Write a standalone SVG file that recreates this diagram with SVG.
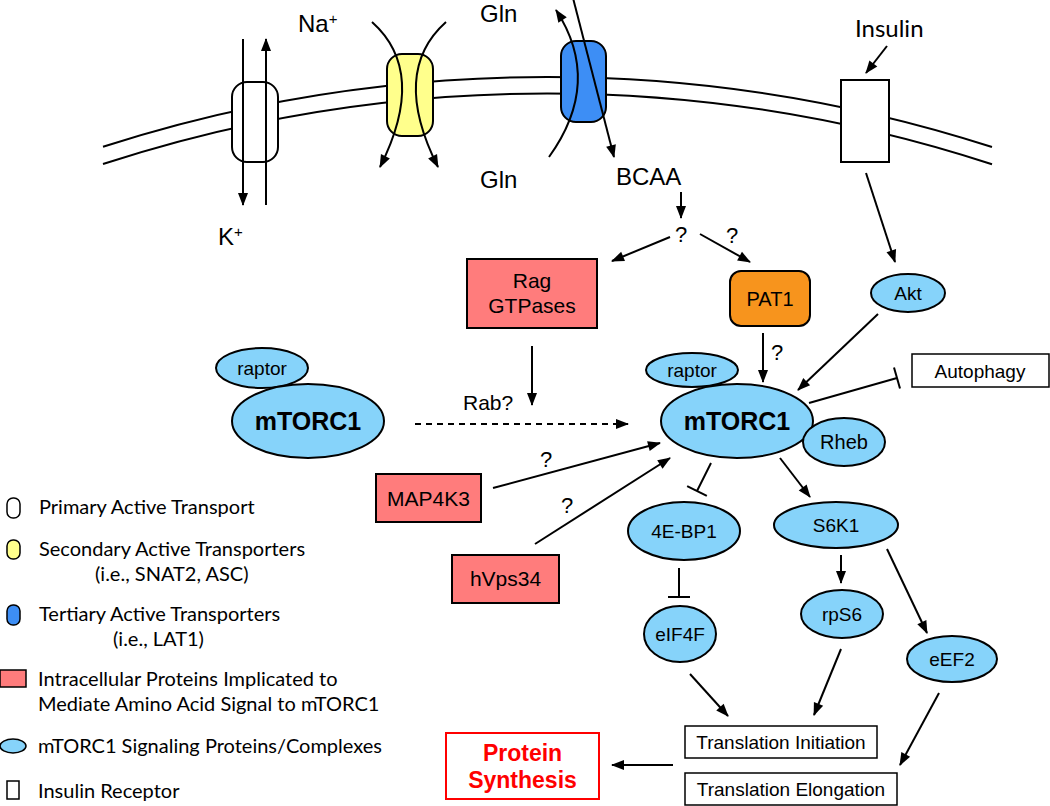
<svg xmlns="http://www.w3.org/2000/svg" width="1050" height="806" viewBox="0 0 1050 806">
<style>
.ln{fill:none;stroke:#000;stroke-width:2}
.ar{marker-end:url(#ah)}
.inh{marker-end:url(#bar)}
.t{font-family:"Liberation Sans",Arial,sans-serif;fill:#000}
.big{font-size:24px}
.n{font-size:20px}
.s{font-size:19px}
.lg{font-family:Lato,"Open Sans",sans-serif;font-size:20px;fill:#000}
.blue{fill:#86D3FA;stroke:#000;stroke-width:2}
.red{fill:#FF7C7C;stroke:#000;stroke-width:2}
.box{fill:#fff;stroke:#000;stroke-width:1.5}
</style>
<defs>
<marker id="ah" markerUnits="userSpaceOnUse" markerWidth="13" markerHeight="11" refX="12" refY="5" orient="auto" overflow="visible">
<path d="M0,0 L13,5 L0,10 z" fill="#000"/>
</marker>
<marker id="bar" markerUnits="userSpaceOnUse" markerWidth="4" markerHeight="24" refX="1" refY="11" orient="auto" overflow="visible">
<path d="M1,0 L1,22" stroke="#000" stroke-width="2" fill="none"/>
</marker>
</defs>
<rect width="1050" height="806" fill="#fff"/>

<g id="membrane">
<path class="ln" d="M103,146.7 A1449,1449 0 0 1 992,147"/>
<path class="ln" d="M103,164 A1432,1432 0 0 1 992,164.3"/>
</g>

<g id="primary-transporter">
<rect x="232" y="82" width="46" height="80" rx="15" fill="#fff" stroke="#000" stroke-width="2"/>
</g>
<g id="secondary-transporter">
<rect x="387" y="54" width="46" height="82" rx="15" fill="#FFFF8C" stroke="#000" stroke-width="2"/>
</g>
<g id="tertiary-transporter">
<rect x="561" y="41" width="45" height="81" rx="15" fill="#3D8EF5" stroke="#000" stroke-width="2"/>
</g>
<g id="insulin-receptor">
<rect x="841" y="80" width="48" height="82" fill="#fff" stroke="#000" stroke-width="2"/>
</g>

<g id="labels-top">
<text class="t big" x="298" y="32">Na<tspan font-size="15" dy="-8">+</tspan></text>
<text class="t big" x="480" y="22">Gln</text>
<text class="t big" x="480" y="188">Gln</text>
<text class="t big" x="616" y="185">BCAA</text>
<text class="t big" x="218" y="245">K<tspan font-size="15" dy="-8">+</tspan></text>
<text class="lg" x="855" y="37" font-size="24" style="font-size:24px">Insulin</text>
<text class="t" x="681" y="242" font-size="22" text-anchor="middle">?</text>
<text class="t" x="732" y="243" font-size="22" text-anchor="middle">?</text>
<text class="t" x="777" y="360" font-size="22" text-anchor="middle">?</text>
<text class="t" x="546" y="467" font-size="22" text-anchor="middle">?</text>
<text class="t" x="567" y="513" font-size="22" text-anchor="middle">?</text>
<text class="t" x="463" y="410" font-size="21">Rab?</text>
</g>

<g id="connectors">
<line class="ln ar" x1="243" y1="39" x2="243" y2="205"/>
<line class="ln ar" x1="266" y1="205" x2="266" y2="39"/>
<path class="ln ar" d="M372,22 Q428,72 380,167"/>
<path class="ln ar" d="M446,22 Q390,72 438,167"/>
<path class="ln ar" d="M549,157 Q603,82 556,10"/>
<line class="ln ar" x1="573" y1="-2" x2="614" y2="157"/>
<line class="ln ar" x1="887" y1="46" x2="866" y2="73"/>
<line class="ln ar" x1="866" y1="173" x2="895" y2="262"/>
<line class="ln ar" x1="681" y1="192" x2="681" y2="218"/>
<line class="ln ar" x1="670" y1="237" x2="612" y2="261"/>
<line class="ln ar" x1="700" y1="234" x2="750" y2="262"/>
<line class="ln ar" x1="532" y1="346" x2="532" y2="405"/>
<line class="ln ar" x1="415" y1="424" x2="628" y2="424" stroke-dasharray="6,5"/>
<line class="ln ar" x1="763" y1="333" x2="763" y2="382"/>
<line class="ln ar" x1="878" y1="314" x2="798" y2="390"/>
<line class="ln inh" x1="809" y1="403" x2="897" y2="378"/>
<line class="ln ar" x1="493" y1="488" x2="660" y2="443"/>
<line class="ln ar" x1="535" y1="544" x2="670" y2="458"/>
<line class="ln inh" x1="711" y1="463" x2="697" y2="491"/>
<line class="ln ar" x1="780" y1="458" x2="810" y2="497"/>
<line class="ln inh" x1="679" y1="568" x2="679" y2="597"/>
<line class="ln ar" x1="841" y1="555" x2="841" y2="583"/>
<line class="ln ar" x1="887" y1="549" x2="927" y2="633"/>
<line class="ln ar" x1="690" y1="674" x2="728" y2="716"/>
<line class="ln ar" x1="841" y1="649" x2="814" y2="715"/>
<line class="ln ar" x1="939" y1="693" x2="900" y2="765"/>
<line class="ln ar" x1="673" y1="765" x2="612" y2="765"/>
</g>

<g id="rag">
<rect class="red" x="467" y="259" width="130" height="69"/>
<text class="t" x="532" y="288" font-size="21" text-anchor="middle">Rag</text>
<text class="t" x="532" y="313" font-size="21" text-anchor="middle">GTPases</text>
</g>
<g id="pat1">
<rect x="730" y="271" width="80" height="55" rx="11" fill="#F7941D" stroke="#000" stroke-width="2"/>
<text class="t n" x="770" y="306" text-anchor="middle">PAT1</text>
</g>
<g id="akt">
<ellipse class="blue" cx="908" cy="293" rx="37" ry="19"/>
<text class="t s" x="908" y="300" text-anchor="middle">Akt</text>
</g>
<g id="mtorc1-inactive">
<ellipse class="blue" cx="262" cy="368" rx="46" ry="20"/>
<text class="t s" x="262" y="375" text-anchor="middle">raptor</text>
<ellipse class="blue" cx="308" cy="421" rx="76" ry="37"/>
<text class="t" x="308" y="430" font-size="25" font-weight="bold" text-anchor="middle">mTORC1</text>
</g>
<g id="mtorc1-active">
<ellipse class="blue" cx="692" cy="370" rx="46" ry="17"/>
<text class="t s" x="692" y="376.5" text-anchor="middle">raptor</text>
<ellipse class="blue" cx="737" cy="421" rx="76" ry="37"/>
<text class="t" x="737" y="430" font-size="25" font-weight="bold" text-anchor="middle">mTORC1</text>
</g>
<g id="rheb">
<ellipse class="blue" cx="844" cy="442" rx="41" ry="24"/>
<text class="t n" x="844" y="449" text-anchor="middle">Rheb</text>
</g>
<g id="autophagy">
<rect class="box" x="912" y="354" width="137" height="33"/>
<text class="t s" x="980" y="377.5" text-anchor="middle">Autophagy</text>
</g>
<g id="map4k3">
<rect class="red" x="376" y="474" width="105" height="48"/>
<text class="t" x="428.5" y="505.5" font-size="21" text-anchor="middle">MAP4K3</text>
</g>
<g id="hvps34">
<rect class="red" x="452" y="555" width="107" height="48"/>
<text class="t" x="505.5" y="586" font-size="21" text-anchor="middle">hVps34</text>
</g>
<g id="4ebp1">
<ellipse class="blue" cx="684" cy="531" rx="56" ry="29"/>
<text class="t s" x="684" y="538" text-anchor="middle">4E-BP1</text>
</g>
<g id="s6k1">
<ellipse class="blue" cx="836" cy="525" rx="62" ry="23"/>
<text class="t s" x="836" y="532" text-anchor="middle">S6K1</text>
</g>
<g id="eif4f">
<ellipse class="blue" cx="680" cy="634" rx="36" ry="28"/>
<text class="t s" x="680" y="641" text-anchor="middle">eIF4F</text>
</g>
<g id="rps6">
<ellipse class="blue" cx="842" cy="614" rx="41" ry="24"/>
<text class="t s" x="842" y="621" text-anchor="middle">rpS6</text>
</g>
<g id="eef2">
<ellipse class="blue" cx="952" cy="659" rx="45" ry="23"/>
<text class="t s" x="952" y="666" text-anchor="middle">eEF2</text>
</g>
<g id="translation-initiation">
<rect class="box" x="685" y="726" width="192" height="32"/>
<text class="t s" x="781" y="749" text-anchor="middle">Translation Initiation</text>
</g>
<g id="translation-elongation">
<rect class="box" x="685" y="773" width="212" height="32"/>
<text class="t s" x="791" y="796" text-anchor="middle">Translation Elongation</text>
</g>
<g id="protein-synthesis">
<rect x="446" y="733" width="153" height="66" fill="#fff" stroke="#FF0000" stroke-width="2"/>
<text class="t" x="522.5" y="761" font-size="23" font-weight="bold" style="fill:#FF0000" text-anchor="middle">Protein</text>
<text class="t" x="522.5" y="788" font-size="23" font-weight="bold" style="fill:#FF0000" text-anchor="middle">Synthesis</text>
</g>

<g id="legend">
<rect x="7" y="498" width="13" height="20" rx="6" fill="#fff" stroke="#000" stroke-width="1.5"/>
<text class="lg" x="39" y="514">Primary Active Transport</text>
<rect x="7" y="540" width="13" height="19" rx="6" fill="#FFFF8C" stroke="#000" stroke-width="1.5"/>
<text class="lg" x="39" y="556">Secondary Active Transporters</text>
<text class="lg" x="95" y="581">(i.e., SNAT2, ASC)</text>
<rect x="7" y="605" width="13" height="20" rx="6" fill="#3D8EF5" stroke="#000" stroke-width="1.5"/>
<text class="lg" x="39" y="621">Tertiary Active Transporters</text>
<text class="lg" x="113" y="646">(i.e., LAT1)</text>
<rect x="0" y="670" width="26" height="17" fill="#FF7C7C" stroke="#000" stroke-width="1.5"/>
<text class="lg" x="38" y="686">Intracellular Proteins Implicated to</text>
<text class="lg" x="38" y="711">Mediate Amino Acid Signal to mTORC1</text>
<ellipse cx="13" cy="746" rx="13" ry="7" fill="#86D3FA" stroke="#000" stroke-width="1.5"/>
<text class="lg" x="38" y="753">mTORC1 Signaling Proteins/Complexes</text>
<rect x="7" y="781" width="12" height="18" fill="#fff" stroke="#000" stroke-width="1.5"/>
<text class="lg" x="38" y="798">Insulin Receptor</text>
</g>
</svg>
